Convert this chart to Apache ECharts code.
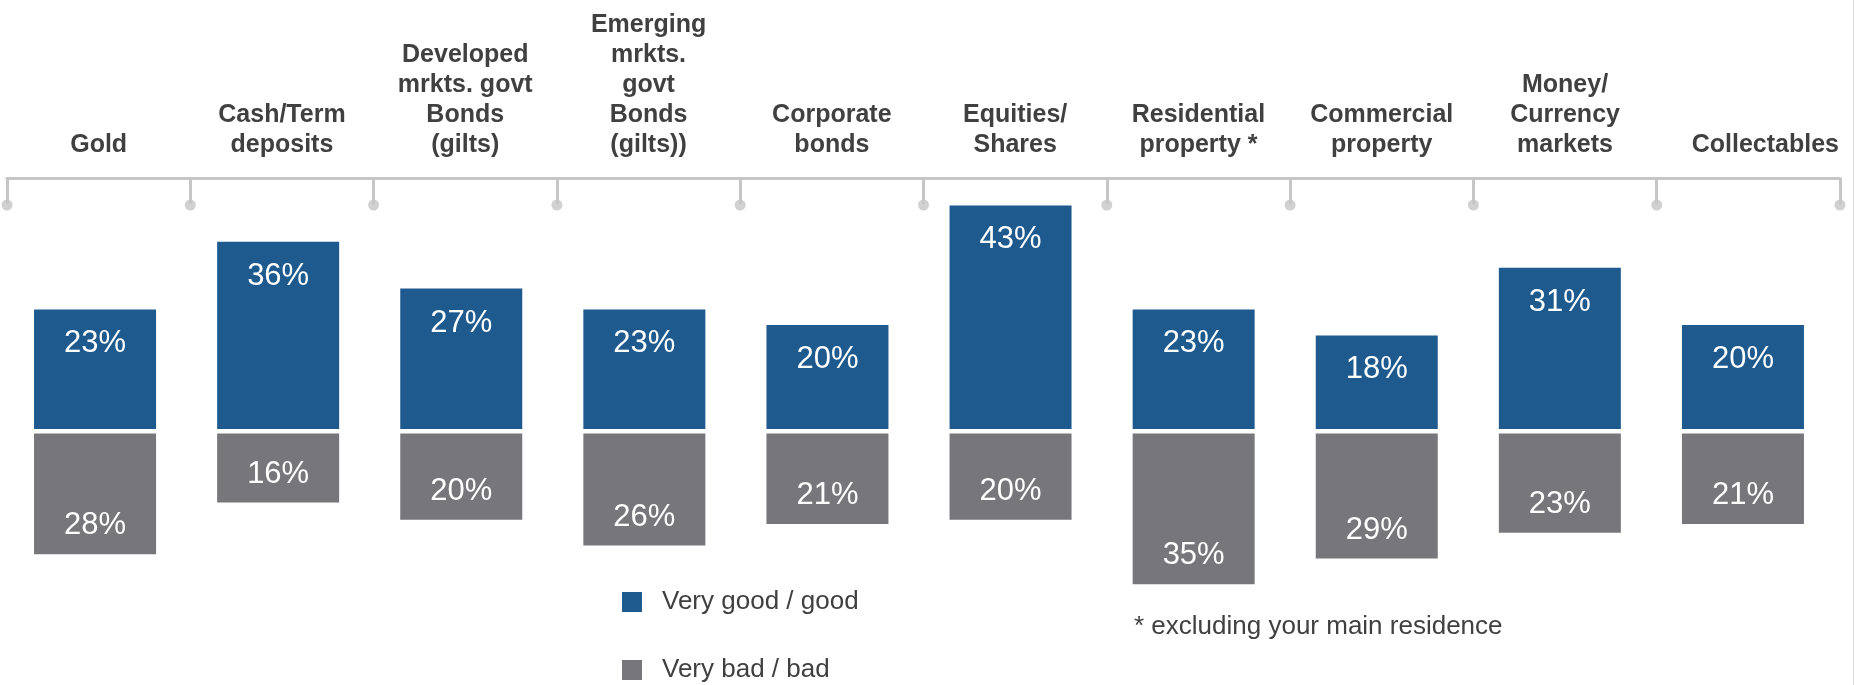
<!DOCTYPE html>
<html>
<head>
<meta charset="utf-8">
<title>Asset class outlook</title>
<script src="https://cdn.jsdelivr.net/npm/echarts@6/dist/echarts.min.js"></script>
<style>
  html, body { margin: 0; padding: 0; background: #ffffff; }
  #chart { width: 1854px; height: 685px; }
</style>
</head>
<body>
<div id="chart"></div>
<script>
// Asset classes shown across the top axis
const categories = [
  'Gold',
  'Cash/Term\ndeposits',
  'Developed\nmrkts. govt\nBonds\n(gilts)',
  'Emerging\nmrkts.\ngovt\nBonds\n(gilts))',
  'Corporate\nbonds',
  'Equities/\nShares',
  'Residential\nproperty *',
  'Commercial\nproperty',
  'Money/\nCurrency\nmarkets',
  'Collectables'
];

// Share of respondents (%) rating each asset class
const goodValues = [23, 36, 27, 23, 20, 43, 23, 18, 31, 20];
const badValues  = [28, 16, 20, 26, 21, 20, 35, 29, 23, 21];

const seriesNames = ['Very good / good', 'Very bad / bad'];
const footnote = '* excluding your main residence';

// Boundaries between categories, where the header ticks end in a dot
const tickIndex = [0, 1, 2, 3, 4, 5, 6, 7, 8, 9, 10];

const FONT = "'Liberation Sans', Arial, Helvetica, sans-serif";
const BLUE = '#1f5a8f';
const GREY = '#77767b';
const AXIS_GREY = '#c6c6c6';
const TEXT = '#404040';

const chart = echarts.init(document.getElementById('chart'), null, { renderer: 'canvas' });

// The long single-line label at the right end sits a little right of its band centre
const headerData = categories.map((name, i) =>
  i === categories.length - 1
    ? { value: name, textStyle: { padding: [0, 0, 0, 34] } }
    : name
);

function legendFor(name, top) {
  return {
    orient: 'vertical',
    left: 622, top: top,
    padding: 0,
    itemWidth: 20, itemHeight: 20,
    icon: 'rect',
    selectedMode: false,
    data: [name],
    textStyle: { color: TEXT, fontFamily: FONT, fontSize: 26, padding: [0, 0, 0, 15] }
  };
}

const option = {
  backgroundColor: '#ffffff',
  animation: false,
  textStyle: { fontFamily: FONT },
  grid: [
    { left: 7, width: 1833, top: 178, height: 40 },       // header axis
    { left: 3.5, width: 1831, top: 169, height: 260 },    // positive ratings
    { left: 3.5, width: 1831, top: 433.5, height: 172.4 } // negative ratings
  ],
  xAxis: [
    {
      type: 'category', gridIndex: 0, position: 'top', data: headerData,
      boundaryGap: true,
      axisLine: { show: true, lineStyle: { color: AXIS_GREY, width: 3 } },
      axisTick: { show: true, inside: true, length: 26, alignWithLabel: false,
                  lineStyle: { color: AXIS_GREY, width: 3 } },
      axisLabel: { show: true, interval: 0, margin: 18, color: TEXT, fontFamily: FONT,
                   fontSize: 25, fontWeight: 'bold', lineHeight: 30, align: 'center' },
      splitLine: { show: false }
    },
    { type: 'value', gridIndex: 0, min: 0, max: 10, show: false },
    { type: 'category', gridIndex: 1, data: categories, show: false },
    { type: 'category', gridIndex: 2, data: categories, show: false }
  ],
  yAxis: [
    { type: 'value', gridIndex: 0, min: 0, max: 40, inverse: true, show: false },
    { type: 'value', gridIndex: 1, min: 0, max: 50, show: false },
    { type: 'value', gridIndex: 2, min: 0, max: 40, inverse: true, show: false }
  ],
  legend: [
    legendFor(seriesNames[0], 589),
    legendFor(seriesNames[1], 657)
  ],
  graphic: [
    {
      type: 'text', left: 1134, top: 614,
      style: { text: footnote, fill: TEXT, font: '26px ' + FONT }
    },
    {
      type: 'line', silent: true,
      shape: { x1: 1853.5, y1: 0, x2: 1853.5, y2: 685 },
      style: { stroke: '#dcdcdc', lineWidth: 1 }
    }
  ],
  series: [
    {
      name: 'tickDots', type: 'scatter', xAxisIndex: 1, yAxisIndex: 0,
      data: tickIndex.map(i => [i, 27]),
      symbol: 'circle', symbolSize: 11, silent: true,
      itemStyle: { color: AXIS_GREY }
    },
    {
      name: seriesNames[0], type: 'bar', xAxisIndex: 2, yAxisIndex: 1,
      data: goodValues, barWidth: 122,
      itemStyle: { color: BLUE },
      label: { show: true, position: 'insideTop', distance: 19, color: '#ffffff',
               fontFamily: FONT, fontSize: 31, formatter: '{c}%' }
    },
    {
      name: seriesNames[1], type: 'bar', xAxisIndex: 3, yAxisIndex: 2,
      data: badValues, barWidth: 122,
      itemStyle: { color: GREY },
      label: { show: true, position: 'insideBottom', distance: 13, color: '#ffffff',
               fontFamily: FONT, fontSize: 31, formatter: '{c}%' }
    }
  ]
};

chart.setOption(option);
</script>
</body>
</html>
